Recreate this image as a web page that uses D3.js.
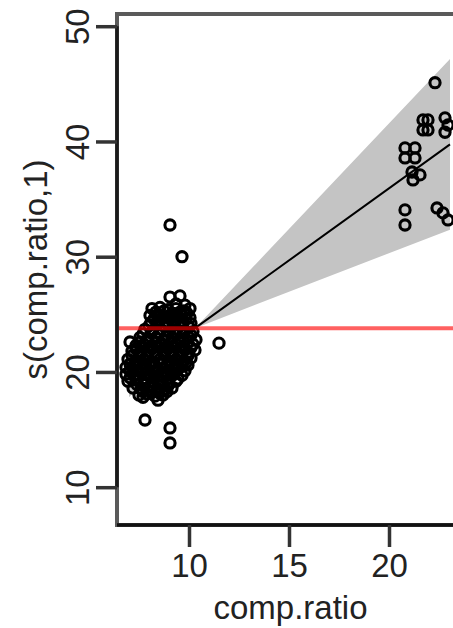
<!DOCTYPE html>
<html>
<head>
<meta charset="utf-8">
<script src="https://cdn.jsdelivr.net/npm/d3@7"></script>
<style>
  html, body { margin: 0; padding: 0; background: #fff; }
  svg { display: block; }
  text { font-family: "Liberation Sans", Arial, Helvetica, sans-serif; fill: #222; }
</style>
</head>
<body>
<svg id="chart" width="453" height="628"></svg>
<script>
// Partial residuals of the comp.ratio term
const compRatio = [
  9.05, 9.65,
  9.05, 9.55, 9.35, 9.8,
  8.15, 8.55, 8.95, 9.35, 9.75, 10.05,
  8.35, 8.75, 9.15, 9.55, 9.9,
  8.05, 8.45, 8.85, 9.25, 9.65, 10.05,
  8.25, 8.65, 9.05, 9.45, 9.85,
  8.1, 8.5, 8.9, 9.3, 9.7, 10.1,
  8.0, 8.4, 8.8, 9.2, 9.6, 10.0,
  7.8, 8.2, 8.6, 9.0, 9.4, 9.8, 10.2,
  7.7, 8.1, 8.5, 8.9, 9.3, 9.7, 10.1,
  7.55, 7.95, 8.35, 8.75, 9.15, 9.55, 9.95, 10.35,
  7.55, 7.95, 8.35, 8.75, 9.15, 9.55, 9.95,
  7.35, 7.75, 8.15, 8.55, 8.95, 9.35, 9.75, 10.2,
  7.35, 7.75, 8.15, 8.55, 8.95, 9.35, 9.75, 10.1,
  7.15, 7.55, 7.95, 8.35, 8.75, 9.15, 9.55, 9.95, 10.3,
  7.15, 7.55, 7.95, 8.35, 8.75, 9.15, 9.55, 9.95,
  6.95, 7.35, 7.75, 8.15, 8.55, 8.95, 9.35, 9.75, 10.1,
  7.05, 7.45, 7.85, 8.25, 8.65, 9.05, 9.45, 9.85,
  6.85, 7.25, 7.65, 8.05, 8.45, 8.85, 9.25, 9.65, 9.95,
  7.05, 7.45, 7.85, 8.25, 8.65, 9.05, 9.45, 9.8,
  6.85, 7.25, 7.65, 8.05, 8.45, 8.85, 9.25, 9.65,
  7.05, 7.45, 7.85, 8.25, 8.65, 9.05, 9.45,
  6.95, 7.35, 7.75, 8.15, 8.55, 8.95, 9.35,
  7.4, 7.8, 8.2, 8.6, 9.0,
  7.2, 7.6, 8.0, 8.4, 8.8, 9.15,
  7.7, 8.1, 8.5, 8.9,
  7.5, 7.9, 8.3, 8.7,
  7.7, 8.45,
  7.05, 11.5, 7.8, 9.05, 9.05,
  22.3,
  21.7, 21.95, 21.7, 21.95, 22.8, 22.95, 22.8,
  20.8, 21.3, 20.8, 21.3, 21.15, 21.55, 21.2,
  20.8, 20.8,
  22.4, 22.7, 22.95
];
const partialResid = [
  32.75, 30.0,
  26.5, 26.6, 25.9, 25.8,
  25.5, 25.6, 25.4, 25.5, 25.3, 25.5,
  25.2, 25.3, 25.1, 25.2, 25.1,
  24.9, 25.0, 24.8, 25.0, 24.9, 24.7,
  24.6, 24.7, 24.6, 24.7, 24.6,
  24.3, 24.4, 24.2, 24.4, 24.3, 24.2,
  24.0, 24.1, 23.9, 24.0, 24.1, 23.9,
  23.7, 23.6, 23.7, 23.5, 23.7, 23.6, 23.5,
  23.3, 23.4, 23.3, 23.2, 23.3, 23.4, 23.2,
  23.0, 22.9, 23.0, 22.8, 23.0, 22.9, 23.1, 22.8,
  22.6, 22.7, 22.6, 22.7, 22.6, 22.7, 22.6,
  22.3, 22.4, 22.3, 22.4, 22.2, 22.4, 22.3, 22.4,
  22.0, 22.1, 22.0, 22.1, 22.0, 22.1, 22.0, 22.1,
  21.8, 21.7, 21.8, 21.6, 21.8, 21.7, 21.8, 21.7, 21.9,
  21.4, 21.4, 21.3, 21.4, 21.5, 21.4, 21.3, 21.4,
  21.1, 21.0, 21.1, 20.9, 21.1, 21.0, 21.1, 21.0, 21.2,
  20.7, 20.8, 20.7, 20.8, 20.7, 20.8, 20.7, 20.8,
  20.4, 20.5, 20.4, 20.5, 20.3, 20.5, 20.4, 20.5, 20.6,
  20.1, 20.1, 20.2, 20.1, 20.0, 20.1, 20.2, 20.1,
  19.8, 19.7, 19.9, 19.8, 19.7, 19.9, 19.8, 19.7,
  19.5, 19.5, 19.4, 19.5, 19.6, 19.5, 19.4,
  19.2, 19.3, 19.1, 19.2, 19.3, 19.1, 19.2,
  18.9, 18.9, 18.8, 18.9, 18.9,
  18.6, 18.5, 18.7, 18.6, 18.5, 18.6,
  18.3, 18.3, 18.2, 18.3,
  18.0, 18.1, 17.9, 18.0,
  17.8, 17.55,
  22.6, 22.5, 15.83, 15.14, 13.84,
  45.1,
  41.87, 41.87, 41.0, 41.0, 42.05, 41.43, 40.8,
  39.44, 39.44, 38.57, 38.57, 37.35, 37.1, 36.66,
  34.06, 32.75,
  34.23, 33.8, 33.19
];

// Fitted linear term and its standard-error band
const fitX     = [7.0, 10.3, 23.05];
const fitY     = [19.7, 23.8, 39.75];
const bandUp   = [21.6, 23.8, 47.15];
const bandLow  = [17.8, 23.8, 32.35];

// Reference level
const refLevel = 23.8;

const xTicks = [10, 15, 20];
const yTicks = [10, 20, 30, 40, 50];

const svg = d3.select("#chart");
const plotL = 117, plotR = 464, plotT = 14, plotB = 525;

const x = d3.scaleLinear().domain([6.4, 23.75]).range([plotL, plotR]);
const y = d3.scaleLinear().domain([6.72, 51.06]).range([plotB, plotT]);

// Confidence band
const bandData = fitX.map((v, i) => ({ x: v, lo: bandLow[i], hi: bandUp[i] }));
svg.append("path")
  .datum(bandData)
  .attr("fill", "#c4c4c4")
  .attr("d", d3.area().x(d => x(d.x)).y0(d => y(d.lo)).y1(d => y(d.hi)));

// Fitted line
svg.append("path")
  .datum(fitX.map((v, i) => [v, fitY[i]]))
  .attr("fill", "none")
  .attr("stroke", "#000")
  .attr("stroke-width", 2)
  .attr("d", d3.line().x(d => x(d[0])).y(d => y(d[1])));

// Residual points
svg.append("g")
  .selectAll("circle")
  .data(compRatio.map((v, i) => [v, partialResid[i]]))
  .join("circle")
  .attr("cx", d => x(d[0]))
  .attr("cy", d => y(d[1]))
  .attr("r", 5.1)
  .attr("fill", "none")
  .attr("stroke", "#000")
  .attr("stroke-width", 3.1);

// Horizontal reference line
svg.append("line")
  .attr("x1", plotL).attr("x2", plotR)
  .attr("y1", y(refLevel)).attr("y2", y(refLevel))
  .attr("stroke", "rgba(255,0,0,0.62)")
  .attr("stroke-width", 4);

// Plot frame
svg.append("rect")
  .attr("x", plotL).attr("y", plotT)
  .attr("width", plotR - plotL).attr("height", plotB - plotT)
  .attr("fill", "none")
  .attr("stroke", "#5a5a5a")
  .attr("stroke-width", 4);

// Y axis
const yAxis = svg.append("g")
  .attr("transform", `translate(${plotL},0)`)
  .call(d3.axisLeft(y).tickValues(yTicks).tickSize(21).tickFormat(d3.format("d")));
yAxis.select(".domain")
  .attr("d", `M0,${y(10)}V${y(50)}`)
  .attr("stroke", "#1a1a1a").attr("stroke-width", 3.5);
yAxis.selectAll(".tick line").attr("stroke", "#333").attr("stroke-width", 3.5);
yAxis.selectAll(".tick text")
  .attr("x", 0).attr("y", -28).attr("dy", 0)
  .attr("transform", "rotate(-90)")
  .attr("text-anchor", "middle")
  .style("font-size", "33px")
  .style("font-family", "'Liberation Sans', Arial, sans-serif")
  .attr("fill", "#222");

// X axis
const xAxis = svg.append("g")
  .attr("transform", `translate(0,${plotB})`)
  .call(d3.axisBottom(x).tickValues(xTicks).tickSize(22).tickFormat(d3.format("d")));
xAxis.select(".domain")
  .attr("d", `M${plotL},0H${plotR}`)
  .attr("stroke", "#111").attr("stroke-width", 3.5);
xAxis.selectAll(".tick line").attr("stroke", "#333").attr("stroke-width", 3.5);
xAxis.selectAll(".tick text")
  .attr("y", 52).attr("dy", 0)
  .style("font-size", "33px")
  .style("font-family", "'Liberation Sans', Arial, sans-serif")
  .attr("fill", "#222");

// Axis titles
svg.append("text")
  .attr("x", (plotL + plotR) / 2).attr("y", 619)
  .attr("text-anchor", "middle")
  .style("font-size", "33px")
  .text("comp.ratio");

svg.append("text")
  .attr("transform", `translate(47,${(plotT + plotB) / 2}) rotate(-90)`)
  .attr("text-anchor", "middle")
  .style("font-size", "33px")
  .text("s(comp.ratio,1)");
</script>
</body>
</html>
